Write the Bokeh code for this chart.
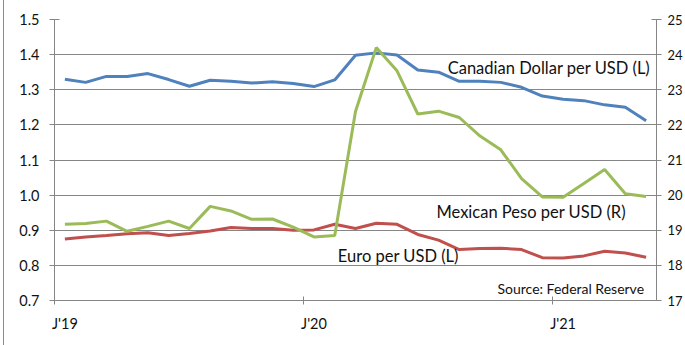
from bokeh.plotting import figure
from bokeh.models import Range1d, LinearAxis, FixedTicker, ColumnDataSource, Label
from bokeh.embed import file_html
from bokeh.resources import INLINE

# Monthly, Jan 2019 .. May 2021
months = ["2019-01", "2019-02", "2019-03", "2019-04", "2019-05", "2019-06",
          "2019-07", "2019-08", "2019-09", "2019-10", "2019-11", "2019-12",
          "2020-01", "2020-02", "2020-03", "2020-04", "2020-05", "2020-06",
          "2020-07", "2020-08", "2020-09", "2020-10", "2020-11", "2020-12",
          "2021-01", "2021-02", "2021-03", "2021-04", "2021-05"]
cad = [1.330, 1.321, 1.338, 1.338, 1.346, 1.329, 1.310, 1.327, 1.324, 1.319,
       1.323, 1.318, 1.309, 1.328, 1.398, 1.405, 1.399, 1.356, 1.350, 1.324,
       1.324, 1.321, 1.307, 1.282, 1.273, 1.269, 1.257, 1.250, 1.212]
eur = [0.875, 0.881, 0.885, 0.890, 0.893, 0.885, 0.891, 0.898, 0.908, 0.905,
       0.905, 0.900, 0.901, 0.917, 0.905, 0.920, 0.917, 0.888, 0.872, 0.845,
       0.848, 0.849, 0.845, 0.822, 0.821, 0.827, 0.840, 0.835, 0.823]
mxn = [19.17, 19.19, 19.26, 18.97, 19.11, 19.26, 19.05, 19.68, 19.55, 19.31,
       19.32, 19.09, 18.81, 18.85, 22.38, 24.20, 23.54, 22.31, 22.39, 22.21,
       21.68, 21.29, 20.47, 19.95, 19.94, 20.33, 20.73, 20.04, 19.96]
year_labels = ["J'19", "J'20", "J'21"]
year_idx = [0, 12, 24]
left_ticks = [0.7, 0.8, 0.9, 1.0, 1.1, 1.2, 1.3, 1.4, 1.5]
left_labels = ["0.7", "0.8", "0.9", "1.0", "1.1", "1.2", "1.3", "1.4", "1.5"]
right_ticks = [17, 18, 19, 20, 21, 22, 23, 24, 25]

x = list(range(len(months)))
src = ColumnDataSource(dict(x=x, cad=cad, eur=eur, mxn=mxn))

FONT = "Lato"
AX = "#868686"
TXT = "#111111"
TICK_FS = "14.5px"

p = figure(width=681, height=345, output_backend="svg", toolbar_location=None,
           x_range=Range1d(-0.5, len(months) - 0.5), y_range=Range1d(0.7, 1.5),
           min_border_left=50, min_border_right=20, min_border_top=19,
           min_border_bottom=45)
p.styles = {"margin-left": "3px", "border-left": "1px solid #8c8c8c"}
p.outline_line_color = None
p.background_fill_color = "white"
p.border_fill_color = "white"
p.extra_y_ranges = {"mx": Range1d(17, 25)}

# x axis: labels at category centres, tick marks on category boundaries
xa = p.xaxis[0]
xa.ticker = FixedTicker(ticks=year_idx, minor_ticks=[i - 0.5 for i in year_idx])
xa.major_label_overrides = {i: l for i, l in zip(year_idx, year_labels)}
xa.major_tick_in = 0
xa.major_tick_out = 0
xa.minor_tick_in = 4
xa.minor_tick_out = 4
xa.minor_tick_line_color = AX
xa.axis_line_color = AX
xa.major_label_standoff = 10
xa.major_label_text_font = FONT
xa.major_label_text_font_size = TICK_FS
xa.major_label_text_color = TXT

ya = p.yaxis[0]
ya.ticker = FixedTicker(ticks=left_ticks)
ya.major_label_overrides = {t: l for t, l in zip(left_ticks, left_labels)}
ya.major_tick_in = 5
ya.major_tick_out = 5
ya.minor_tick_line_color = None
ya.axis_line_color = AX
ya.major_tick_line_color = AX
ya.major_label_standoff = 10
ya.major_label_text_font = FONT
ya.major_label_text_font_size = TICK_FS
ya.major_label_text_color = TXT

ra = LinearAxis(y_range_name="mx", ticker=FixedTicker(ticks=right_ticks))
ra.major_tick_in = 5
ra.major_tick_out = 5
ra.minor_tick_line_color = None
ra.axis_line_color = AX
ra.major_tick_line_color = AX
ra.major_label_standoff = 6
ra.axis_label_standoff = 0
ra.major_label_text_font = FONT
ra.major_label_text_font_size = "13px"
ra.major_label_text_color = TXT
p.add_layout(ra, "right")

p.xgrid.grid_line_color = None
p.ygrid.ticker = FixedTicker(ticks=left_ticks)
p.ygrid.grid_line_color = AX
p.ygrid.grid_line_width = 1

p.line("x", "cad", source=src, line_color="#4F81BD", line_width=3)
p.line("x", "eur", source=src, line_color="#C0504D", line_width=3)
p.line("x", "mxn", source=src, y_range_name="mx", line_color="#9BBB59", line_width=3)

def ann(text, xv, yv, size="16.5px", align="left"):
    p.add_layout(Label(x=xv, y=yv, text=text, text_font=FONT, text_font_size=size,
                       text_color=TXT, text_align=align, text_baseline="middle"))

ann("Canadian Dollar per USD (L)", 18.44, 1.363)
ann("Mexican Peso per USD (R)", 17.9, 0.952)
ann("Euro per USD (L)", 13.15, 0.826)
ann("Source: Federal Reserve", 27.9, 0.735, size="14px", align="right")

open("out.html", "w").write(file_html(p, INLINE))
